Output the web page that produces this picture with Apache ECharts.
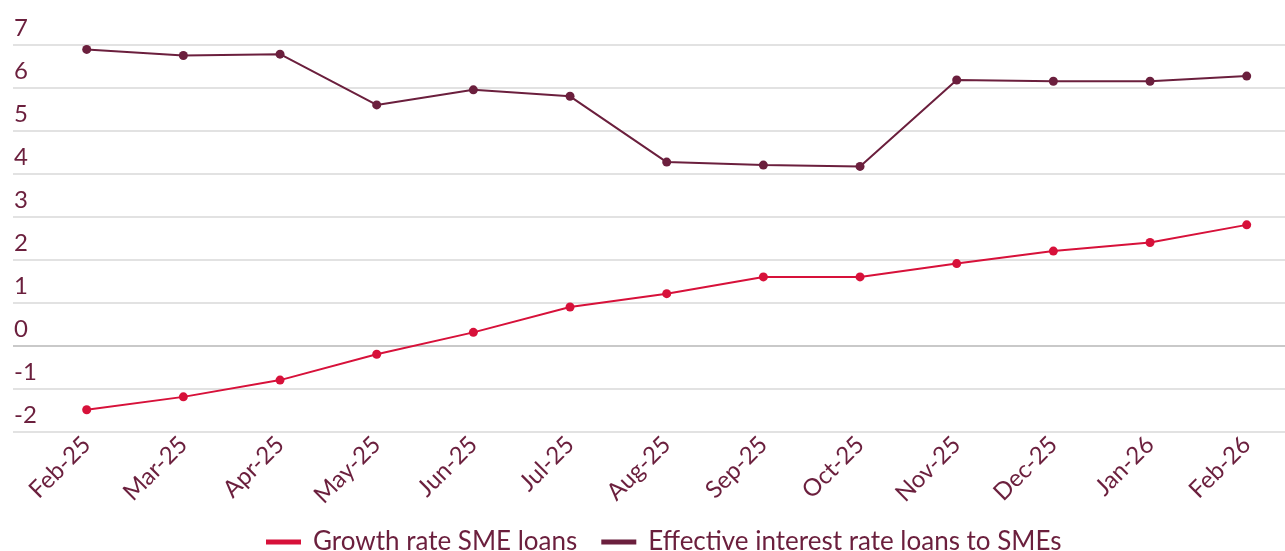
<!DOCTYPE html>
<html>
<head>
<meta charset="utf-8">
<script src="https://cdn.jsdelivr.net/npm/echarts@6/dist/echarts.min.js"></script>
<style>
  html, body { margin: 0; padding: 0; background: #ffffff; }
  #chart { width: 1285px; height: 551px; }
</style>
</head>
<body>
<div id="chart"></div>
<script>
// Monthly categories
const months = ['Feb-25', 'Mar-25', 'Apr-25', 'May-25', 'Jun-25', 'Jul-25', 'Aug-25',
                'Sep-25', 'Oct-25', 'Nov-25', 'Dec-25', 'Jan-26', 'Feb-26'];

// Year-on-year growth of SME loans (%)
const growthRate = [-1.49, -1.19, -0.80, -0.20, 0.31, 0.90, 1.21, 1.60, 1.60, 1.91, 2.20, 2.40, 2.81];

// Effective interest rate on loans to SMEs (%)
const interestRate = [6.89, 6.75, 6.78, 5.60, 5.95, 5.80, 4.27, 4.20, 4.17, 6.18, 6.15, 6.15, 6.27];

const seriesNames = ['Growth rate SME loans', 'Effective interest rate loans to SMEs'];

const Y_MIN = -2, Y_MAX = 7, Y_STEP = 1;

const RED = '#d7113a';
const MAROON = '#6b1f3d';
const FONT = 'Lato';

const GRID_TOP = 44.7, GRID_BOTTOM = 119.3;

// Gridline colours: the zero line is drawn a little darker
const gridColors = [];
for (let v = Y_MIN; v <= Y_MAX; v += Y_STEP) gridColors.push(v === 0 ? '#b7b7b7' : '#d9d9d9');

const chart = echarts.init(document.getElementById('chart'), null, { renderer: 'canvas' });

chart.setOption({
  animation: false,
  backgroundColor: '#ffffff',
  textStyle: { fontFamily: FONT },
  grid: [
    // full-width background grid carrying the horizontal gridlines and y labels
    { left: 13, right: 0, top: GRID_TOP, bottom: GRID_BOTTOM },
    // plotting grid for the monthly series
    { left: 86.7, right: 38.3, top: GRID_TOP, bottom: GRID_BOTTOM }
  ],
  xAxis: [
    { gridIndex: 0, type: 'value', min: 0, max: 1, show: false },
    {
      gridIndex: 1,
      type: 'category',
      data: months,
      boundaryGap: false,
      axisLine: { show: false },
      axisTick: { show: false },
      splitLine: { show: false },
      axisLabel: {
        rotate: 45,
        margin: 9,
        color: MAROON,
        fontFamily: FONT,
        fontSize: 24
      }
    }
  ],
  yAxis: [
    {
      gridIndex: 0,
      type: 'value',
      min: Y_MIN,
      max: Y_MAX,
      interval: Y_STEP,
      axisLine: { show: false },
      axisTick: { show: false },
      splitLine: { show: true, lineStyle: { color: gridColors, width: 1.5 } },
      axisLabel: {
        inside: true,
        margin: 1,
        align: 'left',
        verticalAlign: 'bottom',
        padding: [0, 0, 4, 0],
        color: MAROON,
        fontFamily: FONT,
        fontSize: 24
      }
    },
    { gridIndex: 1, type: 'value', min: Y_MIN, max: Y_MAX, interval: Y_STEP, show: false }
  ],
  legend: {
    data: seriesNames,
    left: 261,
    top: 524,
    itemWidth: 35,
    itemHeight: 5,
    itemGap: 24,
    icon: 'rect',
    textStyle: { color: MAROON, fontFamily: FONT, fontSize: 26, padding: [0, 0, 0, 7] }
  },
  series: [
    {
      name: seriesNames[0],
      type: 'line',
      xAxisIndex: 1,
      yAxisIndex: 1,
      data: growthRate,
      symbol: 'circle',
      symbolSize: 9,
      color: RED,
      lineStyle: { color: RED, width: 2 },
      itemStyle: { color: RED }
    },
    {
      name: seriesNames[1],
      type: 'line',
      xAxisIndex: 1,
      yAxisIndex: 1,
      data: interestRate,
      symbol: 'circle',
      symbolSize: 9,
      color: MAROON,
      lineStyle: { color: MAROON, width: 2 },
      itemStyle: { color: MAROON }
    }
  ]
});
</script>
</body>
</html>
